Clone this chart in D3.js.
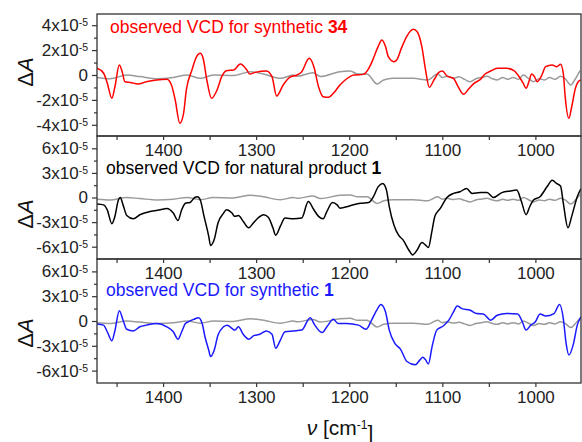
<!DOCTYPE html>
<html>
<head>
<meta charset="utf-8">
<script src="https://cdn.jsdelivr.net/npm/d3@7"></script>
<style>
  body { margin: 0; background: #fff; }
  text { font-family: "Liberation Sans", Arial, sans-serif; }
</style>
</head>
<body>
<svg id="chart" width="582" height="442"></svg>
<script>
// wavenumber (cm-1), dA in units of 1e-5
var synthetic34 = [
  [1471,0.54],[1464,0.16],[1460,-0.64],[1455,-1.87],[1452,-1.04],[1447,0.80],[1444,0.27],[1441,-0.54],
  [1435,-0.60],[1427,-0.72],[1418,-0.54],[1407,-0.40],[1396,-0.35],[1391,-0.80],[1387,-2.00],[1382,-3.88],
  [1378,-3.08],[1375,-1.20],[1369,0.40],[1364,1.47],[1360,1.74],[1357,1.34],[1353,-0.40],[1348,-1.87],
  [1342,-1.20],[1337,-0.13],[1332,0.35],[1324,0.40],[1317,0.88],[1310,0.40],[1307,0.08],[1301,0.21],
  [1289,0.32],[1283,-0.13],[1278,-1.69],[1271,-0.80],[1264,-0.19],[1256,0.00],[1251,0.27],[1243,1.34],
  [1238,0.67],[1233,-0.94],[1228,-1.74],[1222,-1.79],[1217,-1.47],[1210,-0.80],[1203,-0.32],[1195,0.00],
  [1185,0.05],[1179,0.54],[1174,1.34],[1169,2.28],[1165,2.81],[1161,2.28],[1158,1.47],[1152,1.07],
  [1149,1.20],[1144,2.14],[1138,3.13],[1131,3.67],[1127,3.48],[1122,2.28],[1118,0.40],[1114,-0.99],
  [1109,-0.40],[1104,0.19],[1100,0.32],[1095,-0.08],[1088,-0.27],[1083,-0.94],[1077,-1.55],[1072,-1.15],
  [1066,-0.67],[1059,-0.35],[1054,0.08],[1048,0.32],[1041,0.54],[1031,0.54],[1023,0.35],[1018,-0.08],
  [1013,-0.67],[1010,-1.07],[1007,-0.54],[1004,0.08],[1001,-0.13],[998,-0.54],[993,0.00],[989,0.67],
  [982,0.80],[977,0.67],[973,0.86],[970,0.13],[968,-1.74],[964,-3.48],[961,-2.55],[957,-1.07],
  [954,-0.54],[951,-0.40]
];

var natural1 = [
  [1471,-0.79],[1464,-0.9],[1460,-1.5],[1455,-3.2],[1452,-2.4],[1448,-0.3],[1446,0.0],[1443,-0.9],
  [1439,-2.2],[1432,-2.6],[1425,-2.1],[1414,-1.7],[1403,-1.5],[1396,-1.35],[1389,-1.9],[1384,-2.8],
  [1380,-1.5],[1376,-0.7],[1371,-0.6],[1366,0.0],[1363,0.1],[1360,-0.3],[1356,-2.3],[1351,-4.7],
  [1349,-5.85],[1345,-5.1],[1341,-3.1],[1335,-1.9],[1332,-1.5],[1326,-1.9],[1323,-2.3],[1319,-2.2],
  [1314,-2.9],[1308,-3.7],[1303,-3.1],[1298,-2.5],[1292,-2.1],[1287,-2.4],[1282,-3.7],[1279,-4.6],
  [1274,-3.5],[1269,-2.5],[1260,-2.6],[1251,-2.5],[1244,-0.5],[1238,-1.5],[1233,-2.3],[1228,-2.6],
  [1224,-1.7],[1218,-0.6],[1213,-0.9],[1210,-1.3],[1199,-1.0],[1188,-0.7],[1179,-0.6],[1174,0.1],
  [1169,1.3],[1164,1.7],[1160,0.9],[1157,-1.1],[1152,-3.35],[1147,-4.6],[1142,-5.2],[1136,-6.4],
  [1132,-7.0],[1127,-6.4],[1122,-5.5],[1118,-5.8],[1115,-6.1],[1111,-4.0],[1108,-2.3],[1102,-1.3],
  [1095,0.0],[1088,0.5],[1081,0.7],[1074,1.1],[1068,0.5],[1059,0.6],[1052,0.6],[1045,0.0],
  [1036,0.6],[1027,0.8],[1020,0.9],[1015,-0.5],[1010,-2.1],[1006,-1.1],[1002,-0.3],[995,0.1],
  [987,1.4],[982,2.1],[977,1.7],[973,1.4],[970,-0.7],[965,-3.7],[961,-2.3],[955,0.1],[951,1.1]
];

var synthetic1 = [
  [1471,-0.36],[1464,-0.5],[1460,-1.3],[1455,-2.4],[1452,-1.3],[1447,1.25],[1443,0.1],[1439,-1.0],
  [1432,-1.2],[1425,-0.7],[1418,-0.5],[1407,-0.3],[1396,-0.7],[1389,-1.3],[1384,-2.2],[1380,-1.3],
  [1376,-0.3],[1373,-0.1],[1367,0.2],[1362,0.4],[1358,-0.3],[1355,-1.9],[1351,-3.5],[1349,-4.3],
  [1345,-3.5],[1341,-1.7],[1335,-0.7],[1331,-0.5],[1326,-0.9],[1323,-1.1],[1319,-0.7],[1314,-1.6],
  [1308,-2.2],[1303,-1.8],[1296,-1.6],[1289,-1.2],[1283,-1.6],[1279,-3.3],[1274,-2.3],[1269,-1.3],
  [1260,-1.2],[1251,-1.1],[1242,0.4],[1237,-0.5],[1229,-1.4],[1224,-0.7],[1217,0.2],[1212,-0.3],
  [1203,-0.3],[1190,-0.5],[1182,-1.0],[1176,0.1],[1170,1.4],[1166,2.0],[1161,1.1],[1157,-1.1],
  [1151,-2.7],[1145,-3.4],[1138,-4.9],[1129,-5.3],[1124,-4.7],[1121,-4.4],[1118,-4.7],[1115,-5.2],
  [1111,-3.1],[1106,-1.1],[1099,-0.6],[1093,0.1],[1088,1.1],[1084,1.8],[1079,1.5],[1070,1.3],
  [1063,0.9],[1056,0.85],[1048,0.1],[1041,0.7],[1031,0.9],[1019,0.85],[1014,-0.1],[1010,-1.1],
  [1005,-0.5],[1000,-0.1],[995,0.85],[989,0.6],[980,0.9],[974,2.0],[970,0.3],[967,-2.7],
  [964,-4.1],[959,-2.7],[955,-0.5],[951,0.5]
];

// noise baseline, same in every panel
var noise = [
  [1471,-0.2],[1457,-0.3],[1439,0.0],[1425,-0.13],[1406,-0.3],[1389,-0.2],[1374,0.0],[1360,-0.27],
  [1346,0.0],[1325,-0.05],[1306,0.27],[1292,0.08],[1274,-0.27],[1260,0.0],[1256,-0.1],[1239,0.19],
  [1231,-0.13],[1210,0.27],[1199,0.32],[1191,0.08],[1181,0.08],[1170,-0.72],[1163,-0.4],[1153,-0.27],
  [1131,-0.27],[1116,-0.4],[1105,0.08],[1100,-0.2],[1095,-0.1],[1088,-0.25],[1082,-0.15],[1076,-0.35],
  [1070,-0.54],[1064,-0.3],[1058,-0.2],[1052,-0.1],[1046,-0.3],[1041,-0.4],[1035,-0.2],[1030,-0.35],
  [1024,-0.2],[1018,-0.35],[1013,0.0],[1007,-0.3],[1002,-0.54],[996,-0.3],[990,-0.4],[985,-0.2],
  [979,-0.35],[973,-0.1],[968,-0.3],[962,-0.8],[957,-0.3],[952,0.35]
];

var xTicks = [1450,1400,1350,1300,1250,1200,1150,1100,1050,1000];
var yTicksTop = [-4,-2,0,2,4];
var yTicksLower = [-6,-3,0,3,6];

var svg = d3.select("#chart");
var left = 97, right = 581;
var font = "'Liberation Sans', Arial, sans-serif";

var x = d3.scaleLinear().domain([1471, 951]).range([left, right]);

var panels = [
  {top: 14, bottom: 136, lim: 4.9, ticks: yTicksTop, step: 2, data: synthetic34,
   color: "#ff0000", label: "observed VCD for synthetic ", num: "34", lx: 110, ly: 33, ay: 72},
  {top: 136, bottom: 259, lim: 7.5, ticks: yTicksLower, step: 3, data: natural1,
   color: "#000000", label: "observed VCD for natural product ", num: "1", lx: 106, ly: 174, ay: 214},
  {top: 259, bottom: 383, lim: 7.5, ticks: yTicksLower, step: 3, data: synthetic1,
   color: "#1a1aff", label: "observed VCD for synthetic ", num: "1", lx: 106, ly: 296, ay: 333}
];

var layerLines = svg.append("g");
var layerAxes = svg.append("g");

panels.forEach(function(p, i) {
  var y = d3.scaleLinear().domain([-p.lim, p.lim]).range([p.bottom, p.top]);

  var line = d3.line()
      .x(function(d) { return x(d[0]); })
      .y(function(d) { return y(d[1]); })
      .curve(d3.curveMonotoneX);

  layerLines.append("clipPath").attr("id", "clip" + i)
    .append("rect")
      .attr("x", left).attr("y", p.top)
      .attr("width", right - left).attr("height", p.bottom - p.top);

  var g = layerLines.append("g").attr("clip-path", "url(#clip" + i + ")");

  g.append("path")
      .datum(noise)
      .attr("fill", "none")
      .attr("stroke", "#9a9a9a")
      .attr("stroke-width", 1.5)
      .attr("d", line);

  g.append("path")
      .datum(p.data)
      .attr("fill", "none")
      .attr("stroke", p.color)
      .attr("stroke-width", 1.5)
      .attr("d", line);

  // annotation
  var t = layerAxes.append("text")
      .attr("x", p.lx).attr("y", p.ly)
      .attr("fill", p.color)
      .style("font-size", "17.5px");
  t.append("tspan").text(p.label);
  t.append("tspan").style("font-weight", "bold").text(p.num);

  // frame
  layerAxes.append("rect")
      .attr("x", left).attr("y", p.top)
      .attr("width", right - left).attr("height", p.bottom - p.top)
      .attr("fill", "none")
      .attr("stroke", "#333")
      .attr("stroke-width", 1.3);

  // x axis (ticks every 50, labels every 100)
  var xa = layerAxes.append("g")
      .attr("transform", "translate(0," + p.bottom + ")")
      .call(d3.axisBottom(x).tickValues(xTicks).tickSize(4).tickPadding(4)
        .tickFormat(function(d) { return d % 100 === 0 ? d : ""; }));
  xa.select(".domain").remove();
  xa.selectAll("line").attr("stroke", "#333").attr("stroke-width", 1.2);
  xa.selectAll("text").attr("fill", "#222").style("font-size", "17px")
      .style("font-family", font);

  // y minor ticks
  var minor = [];
  p.ticks.forEach(function(v) { minor.push(v + p.step / 2); });
  minor.pop();
  var ym = layerAxes.append("g")
      .attr("transform", "translate(" + left + ",0)")
      .call(d3.axisLeft(y).tickValues(minor).tickSize(3).tickFormat(""));
  ym.select(".domain").remove();
  ym.selectAll("line").attr("stroke", "#333").attr("stroke-width", 1.2);

  // y major ticks with 10^-5 labels
  var ya = layerAxes.append("g")
      .attr("transform", "translate(" + left + ",0)")
      .call(d3.axisLeft(y).tickValues(p.ticks).tickSize(5).tickPadding(4));
  ya.select(".domain").remove();
  ya.selectAll("line").attr("stroke", "#333").attr("stroke-width", 1.2);
  ya.selectAll("text")
      .attr("fill", "#222")
      .style("font-size", "17px")
      .style("font-family", font)
      .each(function(d) {
        var el = d3.select(this).text(null);
        if (d === 0) { el.text("0"); return; }
        el.append("tspan").text(d + "x10");
        el.append("tspan").attr("dy", "-0.45em").style("font-size", "10.5px").text("-5");
      });

  // y label
  var yl = layerAxes.append("text")
      .attr("transform", "translate(33," + p.ay + ") rotate(-90)")
      .attr("text-anchor", "middle")
      .attr("fill", "#111")
      .style("font-size", "22px");
  yl.append("tspan").text("\u0394");
  yl.append("tspan").style("font-style", "italic").text("A");
});

// x label
var xl = svg.append("text")
    .attr("x", 340).attr("y", 435)
    .attr("text-anchor", "middle")
    .attr("fill", "#111")
    .style("font-size", "21px");
xl.append("tspan").style("font-style", "italic").text("\u03bd");
xl.append("tspan").text(" [cm");
xl.append("tspan").attr("dy", "-0.5em").style("font-size", "12px").text("-1");
xl.append("tspan").attr("dy", "0.5em").text("]");
</script>
</body>
</html>
